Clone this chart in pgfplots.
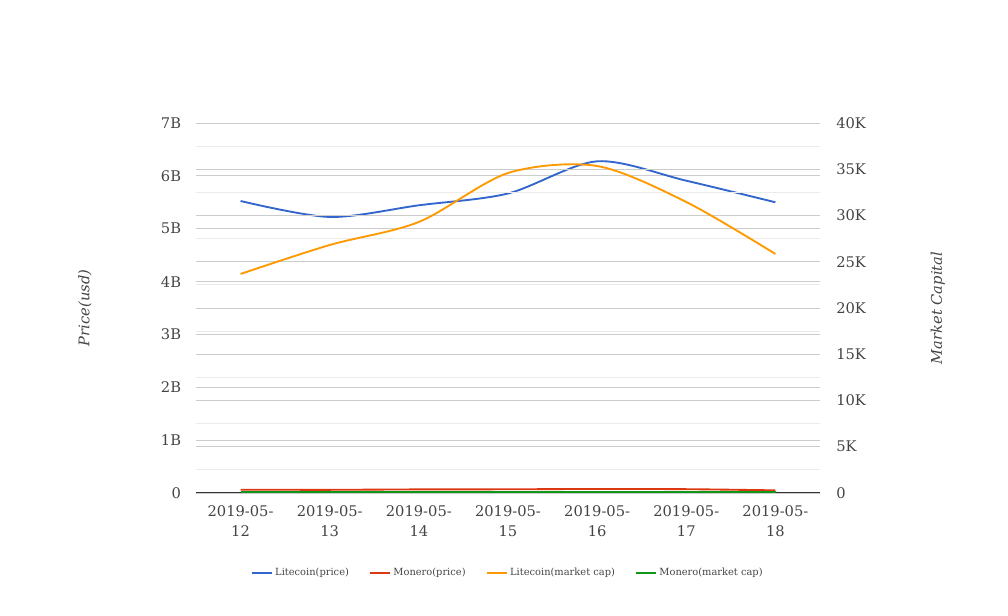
\documentclass[border=0pt]{standalone}
\usepackage{pgfplots}
\pgfplotsset{compat=1.18}
\usepackage{fontspec}
\setmainfont{DejaVu Serif}
\definecolor{ltcp}{HTML}{3366CC}
\definecolor{xmrp}{HTML}{DC3912}
\definecolor{ltcm}{HTML}{FF9900}
\definecolor{xmrm}{HTML}{109618}
\definecolor{txt}{HTML}{444444}
\definecolor{gmaj}{HTML}{CCCCCC}
\definecolor{gmin}{HTML}{EBEBEB}
\begin{document}
\begin{tikzpicture}
\useasboundingbox (0pt,0pt) rectangle (756pt,462pt);
\coordinate (O) at (147pt,92.25pt);
\pgfplotsset{
  base/.style={
    scale only axis, width=468pt, height=277.5pt,
    at={(O)}, anchor=south west,
    xmin=-0.5, xmax=6.5, ymin=0,
    xtick=\empty,
    tick style={draw=none},
    /pgf/number format/assume math mode=true,
    ticklabel style={font=\fontsize{11}{15}\selectfont, text=txt},
    label style={font=\fontsize{11}{13}\selectfont\itshape, text=txt},
  }
}
\begin{axis}[base,
  ymax=7,
  axis y line*=left, axis x line*=bottom,
  y axis line style={draw=none},
  x axis line style={draw=black!80, line width=0.8pt},
  xtick={0,...,6},
  xticklabels={{2019-05-\\12},{2019-05-\\13},{2019-05-\\14},{2019-05-\\15},{2019-05-\\16},{2019-05-\\17},{2019-05-\\18}},
  xticklabel style={align=center, inner sep=0pt, yshift=-9pt},
  ytick={0,1,...,7},
  yticklabels={0,1B,2B,3B,4B,5B,6B,7B},
  yticklabel style={inner sep=0pt, xshift=-11pt},
  ymajorgrids, major grid style={gmaj, line width=0.6pt},
  ylabel={Price(usd)},
  ylabel style={at={(axis description cs:-0.178,0.5)}, anchor=center},
]
\addplot[ltcp, line width=1.4pt, smooth, tension=0.5] coordinates {
(0,5.524) (1,5.222) (2,5.443) (3,5.666) (4,6.275) (5,5.908) (6,5.50)};
\addplot[xmrp, line width=1.4pt, smooth] coordinates {
(0,0.062) (1,0.060) (2,0.068) (3,0.070) (4,0.076) (5,0.072) (6,0.050)};
\end{axis}
\begin{axis}[base,
  ymax=40,
  axis y line*=right, axis x line=none,
  y axis line style={draw=none},
  ytick={0,5,...,40},
  yticklabels={0,5K,10K,15K,20K,25K,30K,35K,40K},
  minor ytick={2.5,7.5,...,37.5},
  yticklabel style={inner sep=0pt, xshift=12pt},
  ymajorgrids, yminorgrids,
  major grid style={gmaj, line width=0.6pt},
  minor grid style={gmin, line width=0.6pt},
  ylabel={Market Capital},
  ylabel style={at={(axis description cs:1.189,0.5)}, anchor=center},
  legend columns=4,
  legend style={at={(0.5,-0.216)}, anchor=center, draw=none, fill=none,
    font=\fontsize{7.4}{8}\selectfont, text=txt,
    /tikz/every even column/.append style={column sep=13pt}},
  legend image code/.code={\draw[#1, line width=1.4pt] (0pt,0pt) -- (15pt,0pt);},
]
\addlegendimage{ltcp}
\addlegendentry{Litecoin(price)}
\addlegendimage{xmrp}
\addlegendentry{Monero(price)}
\addplot[ltcm, line width=1.4pt, smooth, tension=0.5] coordinates {
(0,23.68) (1,26.81) (2,29.30) (3,34.59) (4,35.35) (5,31.46) (6,25.84)};
\addlegendentry{Litecoin(market cap)}
\addplot[xmrm, line width=1.4pt, smooth] coordinates {
(0,0.08) (1,0.08) (2,0.08) (3,0.08) (4,0.08) (5,0.08) (6,0.08)};
\addlegendentry{Monero(market cap)}
\end{axis}
\end{tikzpicture}
\end{document}
